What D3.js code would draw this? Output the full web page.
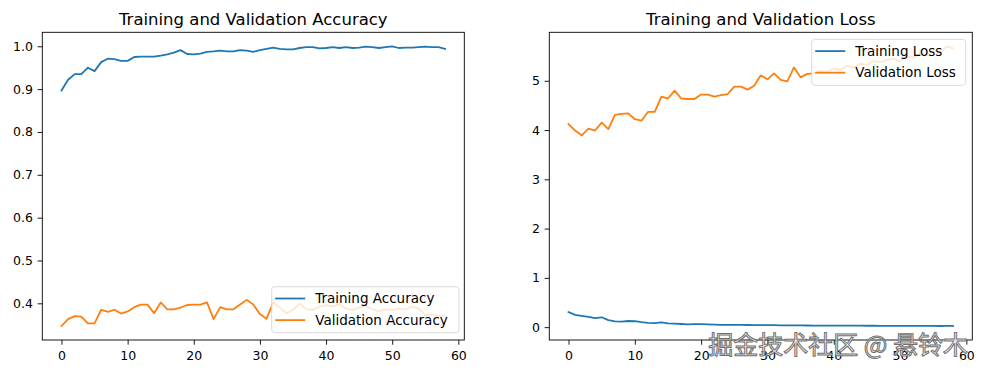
<!DOCTYPE html>
<html lang="en">
  <head>
    <meta charset="utf-8">
    <title>Training and Validation</title>
    <script src="https://d3js.org/d3.v7.min.js"></script>
    <style>
      body { margin: 0; background: #fff; }
      text { font-family: "DejaVu Sans", sans-serif; }
    </style>
  </head>
  <body>
    <div id="chart"></div>
    <script>

// values, one per epoch (0..58)
var trainAcc = [0.897,0.922,0.935,0.935,0.950,0.942,0.963,0.971,0.970,0.966,
                0.966,0.975,0.976,0.976,0.976,0.978,0.981,0.985,0.991,0.982,
                0.981,0.983,0.987,0.988,0.990,0.988,0.988,0.991,0.990,0.987,
                0.991,0.994,0.997,0.994,0.993,0.993,0.996,0.998,0.998,0.995,
                0.996,0.998,0.996,0.998,0.996,0.997,0.999,0.998,0.996,0.998,
                1.000,0.996,0.997,0.997,0.998,0.999,0.998,0.998,0.994];
var valAcc = [0.347,0.363,0.370,0.369,0.353,0.353,0.385,0.380,0.385,0.376,
              0.381,0.391,0.397,0.397,0.377,0.402,0.386,0.386,0.390,0.396,
              0.397,0.397,0.402,0.363,0.391,0.386,0.386,0.397,0.408,0.397,
              0.375,0.364,0.402,0.390,0.377,0.385,0.400,0.386,0.385,0.392,
              0.396,0.393,0.398,0.388,0.384,0.390,0.394,0.386,0.382,0.386,
              0.384,0.388,0.385,0.392,0.388,0.372,0.374,0.370,0.371];
var trainLoss = [0.305,0.25,0.23,0.21,0.185,0.2,0.142,0.118,0.112,0.125,
                 0.12,0.1,0.085,0.082,0.095,0.078,0.072,0.064,0.058,0.062,
                 0.062,0.055,0.05,0.047,0.046,0.045,0.046,0.044,0.042,0.042,
                 0.041,0.04,0.036,0.034,0.035,0.036,0.033,0.031,0.032,0.031,
                 0.030,0.030,0.031,0.029,0.029,0.028,0.029,0.027,0.027,0.026,
                 0.026,0.025,0.024,0.025,0.024,0.024,0.023,0.024,0.026];
var valLoss = [4.12,3.99,3.89,4.03,3.99,4.15,4.02,4.31,4.33,4.34,
               4.22,4.19,4.37,4.37,4.68,4.64,4.80,4.64,4.63,4.63,
               4.72,4.72,4.68,4.71,4.73,4.88,4.88,4.82,4.90,5.11,
               5.03,5.15,5.02,4.99,5.27,5.07,5.14,5.15,5.20,5.18,
               5.25,5.22,5.30,5.27,5.35,5.32,5.40,5.38,5.42,5.45,
               5.40,5.50,5.47,5.55,5.52,5.62,5.55,5.70,5.66];

var xTicks = [0, 10, 20, 30, 40, 50, 60];
var accTicks = [0.4, 0.5, 0.6, 0.7, 0.8, 0.9, 1.0];
var lossTicks = [0, 1, 2, 3, 4, 5];

var w = 984;
var h = 374;
var blue = "#1f77b4";
var orange = "#ff7f0e";

var svg = d3.select("#chart")
  .append("svg")
    .attr("width", w)
    .attr("height", h);

// matplotlib style autoscale: 5% margin on each side
function padded(ext) {
  var m = (ext[1] - ext[0]) * 0.05;
  return [ext[0] - m, ext[1] + m];
}

function drawPanel(opt) {
  var box = opt.box;
  var n = opt.series[0].values.length;
  var g = svg.append("g").attr("transform", `translate(${box.x0}, ${box.y0})`);
  var iw = box.x1 - box.x0;
  var ih = box.y1 - box.y0;

  var xScale = d3.scaleLinear()
    .domain(padded([0, n - 1]))
    .range([0, iw]);

  var allVals = [].concat(...opt.series.map(s => s.values));
  var yScale = d3.scaleLinear()
    .domain(padded(d3.extent(allVals)))
    .range([ih, 0]);

  var xAxis = d3.axisBottom(xScale).tickValues(xTicks).tickSize(4.7).tickPadding(6.5)
    .tickFormat(d3.format("d"));
  var yAxis = d3.axisLeft(yScale).tickValues(opt.yTicks).tickSize(4.7).tickPadding(4.7)
    .tickFormat(opt.yFormat);

  var gx = g.append("g").attr("transform", `translate(0, ${ih})`).call(xAxis);
  var gy = g.append("g").call(yAxis);
  [gx, gy].forEach(function(a) {
    a.select(".domain").remove();
    a.selectAll("line").attr("stroke", "#000").attr("stroke-width", 0.9);
    a.selectAll("text").attr("fill", "#000").style("font-size", "12.5px")
      .style("font-family", "DejaVu Sans");
  });

  var line = d3.line()
    .x((d, i) => xScale(i))
    .y(d => yScale(d));

  opt.series.forEach(function(s) {
    g.append("path")
      .datum(s.values)
      .attr("fill", "none")
      .attr("stroke", s.color)
      .attr("stroke-width", 1.8)
      .attr("stroke-linejoin", "round")
      .attr("stroke-linecap", "square")
      .attr("d", line);
  });

  // spines
  g.append("rect")
    .attr("x", 0).attr("y", 0)
    .attr("width", iw).attr("height", ih)
    .attr("fill", "none")
    .attr("stroke", "#000")
    .attr("stroke-width", 0.9);

  // title
  g.append("text")
    .attr("x", iw / 2)
    .attr("y", -7.5)
    .attr("text-anchor", "middle")
    .style("font-size", "16.5px")
    .attr("fill", "#000")
    .text(opt.title);

  // legend
  var lg = svg.append("g").attr("transform", `translate(${opt.legend.x}, ${opt.legend.y})`);
  lg.append("rect")
    .attr("width", opt.legend.w)
    .attr("height", 46)
    .attr("rx", 3)
    .attr("fill", "#fff")
    .attr("fill-opacity", 0.8)
    .attr("stroke", "#d6d6d6")
    .attr("stroke-width", 0.9);
  opt.series.forEach(function(s, i) {
    var yy = 11.8 + i * 21.6;
    lg.append("line")
      .attr("x1", 3.5).attr("x2", 33.5)
      .attr("y1", yy).attr("y2", yy)
      .attr("stroke", s.color)
      .attr("stroke-width", 1.8);
    lg.append("text")
      .attr("x", 43.5)
      .attr("y", yy + 4.8)
      .style("font-size", "13.5px")
      .attr("fill", "#000")
      .text(s.name);
  });
}

drawPanel({
  box: {x0: 42.3, y0: 32.3, x1: 464.3, y1: 340},
  title: "Training and Validation Accuracy",
  yTicks: accTicks,
  yFormat: d3.format(".1f"),
  series: [
    {name: "Training Accuracy", values: trainAcc, color: blue},
    {name: "Validation Accuracy", values: valAcc, color: orange}
  ],
  legend: {x: 271.7, y: 286.7, w: 187.3}
});

drawPanel({
  box: {x0: 549.3, y0: 32.3, x1: 972.3, y1: 340},
  title: "Training and Validation Loss",
  yTicks: lossTicks,
  yFormat: d3.format("d"),
  series: [
    {name: "Training Loss", values: trainLoss, color: blue},
    {name: "Validation Loss", values: valLoss, color: orange}
  ],
  legend: {x: 811.7, y: 39.3, w: 154}
});

// site watermark over the bottom right corner (it covers the tick labels in the original too)
svg.append("text")
  .attr("x", 968)
  .attr("y", 354)
  .attr("text-anchor", "end")
  .style("font-family", "Noto Sans CJK SC")
  .style("font-size", "25px")
  .attr("fill", "#f4f4f4")
  .attr("fill-opacity", 0.92)
  .attr("stroke", "#707070")
  .attr("stroke-width", 1)
  .text("掘金技术社区 @ 悬铃木");

    </script>
  </body>
</html>
